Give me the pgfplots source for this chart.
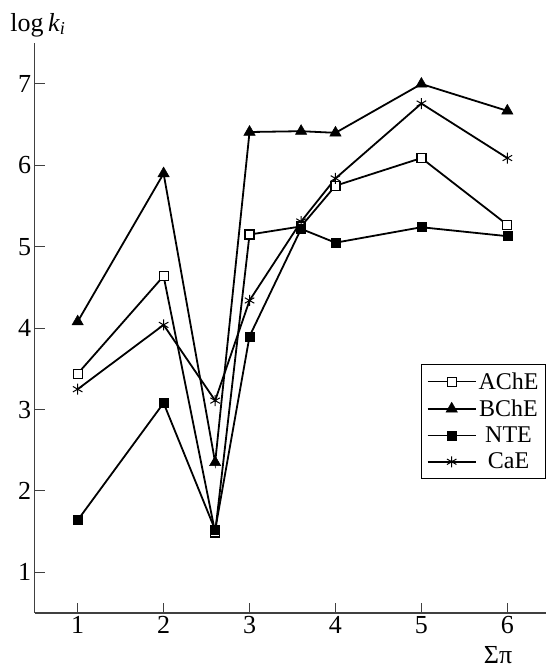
\documentclass[border=0pt]{standalone}
\usepackage{fontspec}
\setmainfont{Liberation Serif}
\usepackage{pgfplots}
\pgfplotsset{compat=1.18}
\begin{document}
\begin{tikzpicture}
\begin{axis}[
  name=ax, at={(0pt,0pt)}, anchor=south west,
  scale only axis, width=511.3pt, height=569.7pt,
  xmin=0.5, xmax=6.45, ymin=0.5, ymax=7.5,
  axis lines=left, axis line style={-, line width=1.2pt, black!75},
  xtick={1,2,3,4,5,6}, ytick={1,2,3,4,5,6,7},
  tick align=inside, major tick length=10pt,
  tick style={line width=1pt, black!75},
  ticklabel style={font=\fontsize{26}{30}\selectfont},
  /pgf/number format/assume math mode=true,
  clip=false,
  legend style={at={(rel axis cs:1,0.437)}, anchor=north east, draw=black, line width=1pt,
    font=\fontsize{24}{26}\selectfont, row sep=5pt, inner xsep=5pt, inner ysep=6pt,
    cells={anchor=center, inner xsep=1pt}},
  legend image code/.code={\draw[mark repeat=2,mark phase=2,#1,line width=1.6pt] plot coordinates {(0pt,0pt) (24pt,0pt) (48pt,0pt)};},
]
\addplot[black, line width=1.8pt, mark=square*, mark size=4.5pt, mark options={solid, fill=white, line width=1.2pt}]
 coordinates {(1,3.44) (2,4.64) (2.6,1.49) (3,5.15) (3.6,5.25) (4,5.75) (5,6.09) (6,5.27)};
\addlegendentry{AChE}
\addplot[black, line width=1.8pt, mark=triangle*, mark size=6.5pt, mark options={solid, fill=black, line width=0.5pt}]
 coordinates {(1,4.08) (2,5.90) (2.6,2.35) (3,6.41) (3.6,6.42) (4,6.40) (5,7.00) (6,6.67)};
\addlegendentry{BChE}
\addplot[black, line width=1.8pt, mark=square*, mark size=4.5pt, mark options={solid, fill=black, line width=0.5pt}]
 coordinates {(1,1.64) (2,3.08) (2.6,1.52) (3,3.90) (3.6,5.22) (4,5.05) (5,5.24) (6,5.13)};
\addlegendentry{NTE}
\addplot[black, line width=1.8pt, mark=asterisk, mark size=5.5pt, mark options={solid, line width=1pt}]
 coordinates {(1,3.25) (2,4.04) (2.6,3.11) (3,4.34) (3.6,5.31) (4,5.84) (5,6.76) (6,6.09)};
\addlegendentry{CaE}
\end{axis}
\node[font=\fontsize{26}{28}\selectfont] at (3.3pt,588pt) {log\,\textit{k}\textsubscript{\textit{i}}};
\node[font=\fontsize{26}{28}\selectfont] at (463.3pt,-42pt) {Σπ};
\pgfresetboundingbox
\path[use as bounding box] (-34.7pt,-56pt) rectangle (511.3pt,613pt);
\end{tikzpicture}
\end{document}
